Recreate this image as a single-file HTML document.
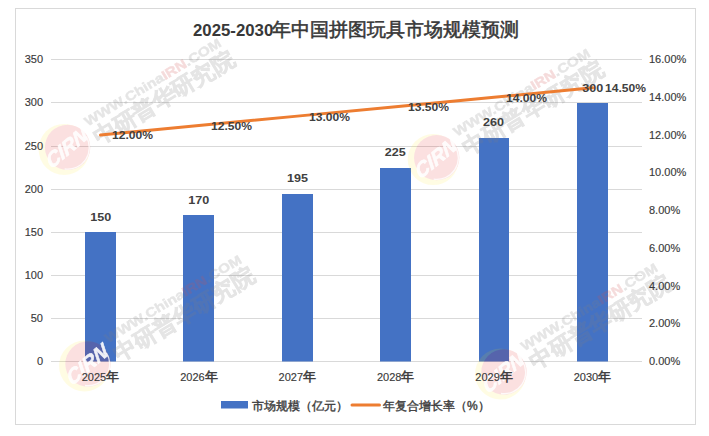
<!DOCTYPE html>
<html><head><meta charset="utf-8">
<style>
html,body{margin:0;padding:0;background:#fff;width:709px;height:436px;overflow:hidden}
svg{display:block}
text{font-family:"Liberation Sans",sans-serif}
.ax{font-size:11px;fill:#3a3a3a;stroke:#3a3a3a;stroke-width:0.15}
.dl{font-size:11px;fill:#404040;font-weight:bold;}
.cj{font-weight:normal}
</style></head><body>
<svg width="709" height="436" viewBox="0 0 709 436">
<defs>
<g id="wm">
  <mask id="ym"><rect x="-40" y="-40" width="80" height="80" fill="#fff"/><circle cx="0" cy="0" r="22.7" fill="#000"/></mask>
  <circle cx="-3.5" cy="2" r="25.5" fill="#ffe600" fill-opacity="0.11" mask="url(#ym)"/>
  <circle cx="0" cy="0" r="22.7" fill="#e00000" fill-opacity="0.12"/>
  <path d="M18.5,-11 A21.5,21.5 0 0,1 -3,21.5" fill="none" stroke="#fff" stroke-width="1.3" opacity="0.8"/>
  <g opacity="0.9" transform="rotate(-40) skewX(-12)">
    <text x="-1" y="6.5" text-anchor="middle" style="font-size:20px;font-weight:bold;font-style:italic;fill:#fff;stroke:#fff;stroke-width:0.6">CIRN</text>
  </g>
  <g opacity="0.2" transform="rotate(-31)">
    <text x="28" y="-7.5" textLength="157" lengthAdjust="spacingAndGlyphs" style="font-size:13px;font-weight:bold;fill:#808080;stroke:#808080;stroke-width:0.5">WWW.China<tspan style="fill:#d05050;stroke:#d05050">IRN</tspan>.COM</text>
    <text x="28" y="14.5" textLength="160" lengthAdjust="spacingAndGlyphs" style="font-size:22px;font-weight:bold;fill:#808080;stroke:#808080;stroke-width:0.7">中研普华研究院</text>
  </g>
</g>
</defs>
<rect x="15.5" y="8.5" width="680" height="416" fill="none" stroke="#d9d9d9" stroke-width="1"/>
<!-- gridlines -->
<g stroke="#d9d9d9" stroke-width="1">
<line x1="51" x2="642" y1="59.5" y2="59.5"/>
<line x1="51" x2="642" y1="102.5" y2="102.5"/>
<line x1="51" x2="642" y1="146.5" y2="146.5"/>
<line x1="51" x2="642" y1="189.5" y2="189.5"/>
<line x1="51" x2="642" y1="232.5" y2="232.5"/>
<line x1="51" x2="642" y1="275.5" y2="275.5"/>
<line x1="51" x2="642" y1="318.5" y2="318.5"/>
<line x1="51" x2="642" y1="361.5" y2="361.5"/>
</g>
<!-- bars -->
<g fill="#4472c4">
<rect x="85" y="232" width="31" height="129.5"/>
<rect x="183" y="215" width="31" height="146.5"/>
<rect x="282" y="194" width="31" height="167.5"/>
<rect x="380" y="168" width="31" height="193.5"/>
<rect x="479" y="138" width="30" height="223.5"/>
<rect x="577" y="103" width="31" height="258.5"/>
</g>
<!-- watermarks -->
<g>
<use href="#wm" x="67.6" y="147.4"/>
<use href="#wm" x="436.7" y="157.6"/>
<use href="#wm" x="88" y="364"/>
<use href="#wm" x="504" y="372"/>
</g>
<!-- line -->
<polyline points="100.5,135 198.9,125.56 297.3,116.12 395.7,106.69 494.1,97.25 592.5,87.81" fill="none" stroke="#ed7d31" stroke-width="3" stroke-linecap="round" stroke-linejoin="round"/>
<!-- left axis labels -->
<g class="ax" text-anchor="end">
<text x="43" y="63">350</text>
<text x="43" y="106">300</text>
<text x="43" y="150">250</text>
<text x="43" y="193">200</text>
<text x="43" y="236">150</text>
<text x="43" y="279">100</text>
<text x="43" y="322">50</text>
<text x="43" y="365">0</text>
</g>
<!-- right axis labels -->
<g class="ax" text-anchor="start">
<text x="649" y="63">16.00%</text>
<text x="649" y="100.75">14.00%</text>
<text x="649" y="138.5">12.00%</text>
<text x="649" y="176.25">10.00%</text>
<text x="649" y="214">8.00%</text>
<text x="649" y="251.75">6.00%</text>
<text x="649" y="289.5">4.00%</text>
<text x="649" y="327.25">2.00%</text>
<text x="649" y="365">0.00%</text>
</g>
<!-- x labels -->
<g class="ax" text-anchor="middle">
<text x="100.5" y="381">2025<tspan style="font-size:12.5px;stroke:#3a3a3a;stroke-width:0.5">年</tspan></text>
<text x="198.9" y="381">2026<tspan style="font-size:12.5px;stroke:#3a3a3a;stroke-width:0.5">年</tspan></text>
<text x="297.3" y="381">2027<tspan style="font-size:12.5px;stroke:#3a3a3a;stroke-width:0.5">年</tspan></text>
<text x="395.7" y="381">2028<tspan style="font-size:12.5px;stroke:#3a3a3a;stroke-width:0.5">年</tspan></text>
<text x="494.1" y="381">2029<tspan style="font-size:12.5px;stroke:#3a3a3a;stroke-width:0.5">年</tspan></text>
<text x="592.5" y="381">2030<tspan style="font-size:12.5px;stroke:#3a3a3a;stroke-width:0.5">年</tspan></text>
</g>
<!-- bar data labels -->
<g class="dl" text-anchor="middle">
<text textLength="21" lengthAdjust="spacingAndGlyphs" x="100.7" y="221">150</text>
<text textLength="21" lengthAdjust="spacingAndGlyphs" x="198.8" y="203.5">170</text>
<text textLength="21" lengthAdjust="spacingAndGlyphs" x="297.4" y="181.5">195</text>
<text textLength="21" lengthAdjust="spacingAndGlyphs" x="395.2" y="155.5">225</text>
<text textLength="21" lengthAdjust="spacingAndGlyphs" x="493.6" y="125.5">260</text>
<text textLength="21" lengthAdjust="spacingAndGlyphs" x="592.8" y="92">300</text>
</g>
<!-- line data labels -->
<g class="dl" text-anchor="start">
<text textLength="41" lengthAdjust="spacingAndGlyphs" x="112" y="139">12.00%</text>
<text textLength="41" lengthAdjust="spacingAndGlyphs" x="211" y="130">12.50%</text>
<text textLength="41" lengthAdjust="spacingAndGlyphs" x="309" y="120.5">13.00%</text>
<text textLength="41" lengthAdjust="spacingAndGlyphs" x="408" y="111">13.50%</text>
<text textLength="41" lengthAdjust="spacingAndGlyphs" x="506" y="101.5">14.00%</text>
<text textLength="41" lengthAdjust="spacingAndGlyphs" x="605" y="92">14.50%</text>
</g>
<!-- title -->
<text x="193" y="35.5" style="font-size:16.8px;font-weight:bold;fill:#383838">2025-2030<tspan x="272" class="cj" style="font-size:19px;stroke:#383838;stroke-width:0.55">年中国拼图玩具市场规模预测</tspan></text>
<!-- legend -->
<rect x="221" y="401" width="27" height="7.5" fill="#4472c4"/>
<text x="252" y="409.5" style="font-size:12px;fill:#404040;stroke:#404040;stroke-width:0.4">市场规模（亿元）</text>
<line x1="352" x2="379.5" y1="405" y2="405" stroke="#ed7d31" stroke-width="3" stroke-linecap="round"/>
<text x="383" y="409.5" style="font-size:12px;fill:#404040;stroke:#404040;stroke-width:0.4">年复合增长率（%）</text>
</svg>
</body></html>
